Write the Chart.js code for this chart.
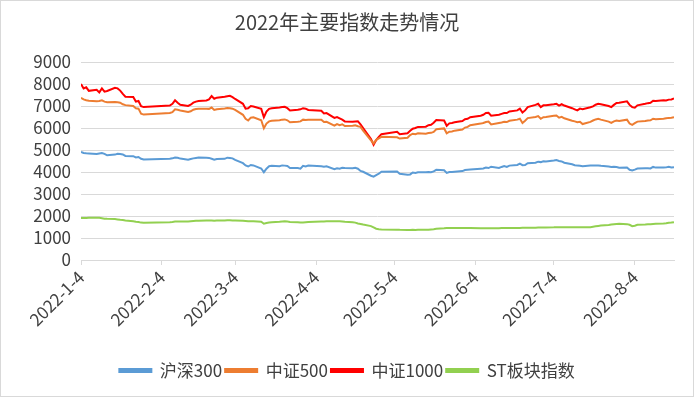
<!DOCTYPE html>
<html lang="zh">
<head>
    <meta charset="UTF-8">
    <title>2022年主要指数走势情况</title>
    <script src="https://cdn.jsdelivr.net/npm/chart.js"></script>
    <style>
        html, body { margin: 0; padding: 0; background: #fff; }
        #wrap { width: 692px; height: 395px; border: 1px solid #d9d9d9; position: relative; }
    </style>
</head>
<body>
<div id="wrap"><canvas id="idxChart" width="692" height="395"></canvas></div>

<script>
    // 交易日
    const dates = [
        '2022-1-4','2022-1-5','2022-1-6','2022-1-7','2022-1-10','2022-1-11','2022-1-12','2022-1-13','2022-1-14',
        '2022-1-17','2022-1-18','2022-1-19','2022-1-20','2022-1-21','2022-1-24','2022-1-25','2022-1-26','2022-1-27','2022-1-28',
        '2022-2-7','2022-2-8','2022-2-9','2022-2-10','2022-2-11','2022-2-14','2022-2-15','2022-2-16','2022-2-17','2022-2-18',
        '2022-2-21','2022-2-22','2022-2-23','2022-2-24','2022-2-25','2022-2-28',
        '2022-3-1','2022-3-2','2022-3-3','2022-3-4','2022-3-7','2022-3-8','2022-3-9','2022-3-10','2022-3-11',
        '2022-3-14','2022-3-15','2022-3-16','2022-3-17','2022-3-18','2022-3-21','2022-3-22','2022-3-23','2022-3-24','2022-3-25',
        '2022-3-28','2022-3-29','2022-3-30','2022-3-31',
        '2022-4-1','2022-4-6','2022-4-7','2022-4-8','2022-4-11','2022-4-12','2022-4-13','2022-4-14','2022-4-15',
        '2022-4-18','2022-4-19','2022-4-20','2022-4-21','2022-4-22','2022-4-25','2022-4-26','2022-4-27','2022-4-28','2022-4-29',
        '2022-5-5','2022-5-6','2022-5-9','2022-5-10','2022-5-11','2022-5-12','2022-5-13','2022-5-16','2022-5-17','2022-5-18',
        '2022-5-19','2022-5-20','2022-5-23','2022-5-24','2022-5-25','2022-5-26','2022-5-27','2022-5-30','2022-5-31',
        '2022-6-1','2022-6-2','2022-6-6','2022-6-7','2022-6-8','2022-6-9','2022-6-10','2022-6-13','2022-6-14','2022-6-15',
        '2022-6-16','2022-6-17','2022-6-20','2022-6-21','2022-6-22','2022-6-23','2022-6-24','2022-6-27','2022-6-28','2022-6-29','2022-6-30',
        '2022-7-1','2022-7-4','2022-7-5','2022-7-6','2022-7-7','2022-7-8','2022-7-11','2022-7-12','2022-7-13','2022-7-14','2022-7-15',
        '2022-7-18','2022-7-19','2022-7-20','2022-7-21','2022-7-22','2022-7-25','2022-7-26','2022-7-27','2022-7-28','2022-7-29',
        '2022-8-1','2022-8-2','2022-8-3','2022-8-4','2022-8-5','2022-8-8','2022-8-9','2022-8-10','2022-8-11','2022-8-12',
        '2022-8-15','2022-8-16','2022-8-17','2022-8-18','2022-8-19'
    ];

    // 沪深300
    const hs300 = [
        4918,4867,4848,4838,4815,4840,4866,4825,4760,4790,4830,4820,4800,4730,4720,4660,4680,4600,4565,
        4600,4620,4660,4650,4610,4560,4590,4620,4640,4660,4650,4640,4600,4560,4590,4600,
        4650,4640,4620,4550,4400,4300,4250,4320,4300,4160,3990,4150,4260,4280,4260,4300,4290,4270,4180,
        4180,4150,4280,4250,
        4290,4260,4240,4260,4130,4170,4150,4190,4180,4170,4190,4150,4050,4010,3830,3790,3860,3920,4010,
        4020,3920,3880,3890,3980,3960,3990,3990,4000,3990,4030,4100,4080,3960,4000,4000,4010,4040,4090,
        4100,4110,4150,4160,4200,4180,4240,4180,4230,4270,4230,4290,4320,4380,4310,4320,4400,4420,4470,4450,4490,
        4480,4520,4540,4500,4480,4420,4350,4310,4290,4280,4260,4290,4290,4300,4300,4280,4250,4230,4240,4230,4190,
        4200,4100,4070,4110,4160,4170,4170,4160,4230,4200,4200,4210,4240,4210,4220
    ];

    // 中证500
    const zz500 = [
        7370,7300,7260,7240,7220,7230,7260,7200,7170,7180,7170,7150,7080,7040,7000,6900,6880,6650,6610,
        6680,6720,6850,6830,6800,6730,6760,6830,6860,6880,6880,6870,6930,6820,6850,6890,
        6910,6900,6880,6820,6600,6420,6340,6470,6490,6350,5990,6200,6300,6330,6350,6380,6390,6350,6260,
        6280,6300,6380,6360,
        6380,6370,6270,6280,6110,6180,6130,6170,6090,6100,6120,6080,6050,5880,5440,5300,5460,5530,5600,
        5580,5520,5560,5680,5740,5720,5760,5740,5770,5780,5820,5940,5980,5760,5830,5840,5880,5930,6020,
        6050,6130,6200,6230,6270,6290,6160,6230,6250,6280,6270,6330,6380,6420,6230,6330,6450,6500,6540,6420,6490,
        6500,6560,6570,6470,6510,6440,6330,6300,6260,6280,6180,6280,6340,6390,6420,6380,6290,6230,6300,6340,6320,
        6380,6200,6140,6220,6290,6320,6340,6350,6420,6400,6420,6440,6460,6470,6490
    ];

    // 中证1000
    const zz1000 = [
        8000,7800,7850,7690,7740,7620,7800,7650,7680,7830,7800,7700,7550,7420,7410,7200,7230,6990,6950,
        7020,7100,7260,7150,7060,7000,7060,7150,7200,7230,7250,7300,7450,7330,7380,7420,
        7440,7460,7400,7320,7100,6880,6900,7000,6980,6870,6490,6750,6870,6900,6930,6950,6960,6900,6800,
        6830,6850,6900,6880,
        6820,6780,6660,6680,6460,6500,6440,6380,6300,6280,6290,6300,6170,6000,5500,5240,5450,5600,5720,
        5830,5720,5760,5870,5970,6000,6050,6060,6130,6150,6240,6360,6340,6100,6210,6230,6260,6320,6400,
        6420,6490,6560,6600,6680,6690,6560,6600,6640,6680,6680,6750,6800,6880,6700,6800,6950,7050,7100,6950,7030,
        7030,7080,7100,7020,7080,7020,6900,6850,6800,6880,6850,6940,6980,7060,7100,7080,7000,6950,7050,7140,7150,
        7210,7050,6950,6920,7030,7100,7130,7150,7240,7230,7260,7250,7290,7300,7340
    ];

    // ST板块指数
    const stIdx = [
        1910,1905,1910,1915,1920,1915,1900,1880,1870,1860,1845,1830,1820,1800,1760,1740,1730,1700,1690,
        1720,1730,1745,1750,1745,1750,1760,1770,1780,1780,1790,1795,1800,1780,1790,1800,
        1805,1805,1800,1800,1780,1770,1760,1765,1760,1740,1650,1680,1700,1720,1740,1755,1760,1750,1730,
        1720,1710,1710,1720,
        1730,1750,1755,1760,1760,1765,1760,1755,1740,1720,1700,1660,1640,1610,1540,1480,1420,1400,1390,
        1380,1370,1365,1365,1370,1365,1370,1370,1380,1390,1400,1420,1440,1450,1455,1460,1460,1455,1450,
        1450,1450,1445,1445,1445,1440,1445,1445,1450,1450,1455,1458,1460,1460,1465,1465,1470,1470,1475,1475,1480,
        1480,1485,1490,1490,1490,1490,1490,1490,1490,1490,1490,1490,1510,1530,1550,1565,1590,1610,1630,1640,1645,
        1630,1600,1540,1560,1600,1610,1620,1630,1640,1645,1660,1670,1690,1700,1720
    ];

    const tickLabels = ['2022-1-4','2022-2-4','2022-3-4','2022-4-4','2022-5-4','2022-6-4','2022-7-4','2022-8-4'];
    const yTicks = [0,1000,2000,3000,4000,5000,6000,7000,8000,9000];

    // 日期 -> 距 2022-1-4 的天数
    function dayOf(s) {
        const p = s.split('-').map(Number);
        return (Date.UTC(p[0], p[1] - 1, p[2]) - Date.UTC(2022, 0, 4)) / 86400000;
    }
    const xs = dates.map(dayOf);
    const tickDays = tickLabels.map(dayOf);

    function series(label, values, color) {
        return {
            label: label,
            data: values.map((v, i) => ({ x: xs[i], y: v })),
            borderColor: color,
            backgroundColor: color,
            borderWidth: 2,
            pointRadius: 0,
            tension: 0
        };
    }

    const txt = '#404040';
    const font = '"Noto Sans CJK SC", "Noto Sans", sans-serif';

    new Chart(document.getElementById('idxChart'), {
        type: 'line',
        data: {
            datasets: [
                series('沪深300', hs300, '#5B9BD5'),
                series('中证500', zz500, '#ED7D31'),
                series('中证1000', zz1000, '#FF0000'),
                series('ST板块指数', stIdx, '#92D050')
            ]
        },
        options: {
            responsive: false,
            animation: false,
            layout: { padding: { left: 0, right: 0, top: 0, bottom: 7 } },
            plugins: {
                title: {
                    display: true,
                    text: '2022年主要指数走势情况',
                    color: txt,
                    font: { family: font, size: 20, weight: 'normal' },
                    padding: { top: 9, bottom: 28 }
                },
                legend: {
                    position: 'bottom',
                    labels: {
                        color: txt,
                        font: { family: font, size: 17 },
                        boxWidth: 32,
                        boxHeight: 3,
                        padding: 3
                    }
                },
                tooltip: { enabled: false }
            },
            scales: {
                x: {
                    type: 'linear',
                    min: 0,
                    max: xs[xs.length - 1],
                    afterBuildTicks: scale => { scale.ticks = tickDays.map(v => ({ value: v })); },
                    afterFit: scale => { scale.height = 99; },
                    ticks: {
                        color: txt,
                        font: { family: font, size: 17 },
                        minRotation: 45,
                        maxRotation: 45,
                        autoSkip: false,
                        padding: 2,
                        callback: (v) => tickLabels[tickDays.indexOf(v)]
                    },
                    grid: { drawOnChartArea: false, drawTicks: true, tickLength: 5, color: '#d9d9d9' },
                    border: { color: '#d9d9d9' }
                },
                y: {
                    min: 0,
                    max: 9000,
                    afterBuildTicks: scale => { scale.ticks = yTicks.map(v => ({ value: v })); },
                    afterFit: scale => { scale.width = 80; },
                    ticks: {
                        color: txt,
                        font: { family: font, size: 17 },
                        padding: 10,
                        autoSkip: false,
                        callback: (v) => String(v)
                    },
                    grid: { color: '#d9d9d9', drawTicks: false },
                    border: { display: false }
                },
                // 右侧留白
                yRight: {
                    position: 'right',
                    min: 0,
                    max: 9000,
                    afterFit: scale => { scale.width = 19; },
                    ticks: { display: false },
                    grid: { display: false },
                    border: { display: false }
                }
            }
        }
    });
</script>
</body>
</html>
